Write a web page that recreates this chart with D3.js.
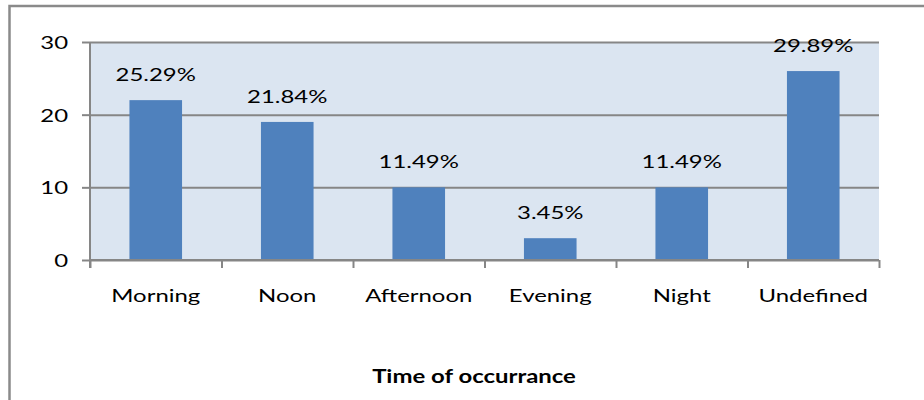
<!DOCTYPE html>
<html>
<head>
<meta charset="utf-8">
<script src="https://cdn.jsdelivr.net/npm/d3@7"></script>
<style>
	html, body { margin: 0; padding: 0; background: #fff; }
	svg { display: block; }
</style>
</head>
<body>
<div id="chart"></div>
<script>
const categories = ["Morning", "Noon", "Afternoon", "Evening", "Night", "Undefined"];
const counts = [22, 19, 10, 3, 10, 26];
const percentLabels = ["25.29%", "21.84%", "11.49%", "3.45%", "11.49%", "29.89%"];
const yTicks = [0, 10, 20, 30];
const axisTitle = "Time of occurrance";

const width = 924;
const height = 400;
const plot = { left: 90, right: 879, top: 42, bottom: 260 };
const gridColor = "#868686";
const fontFamily = "Lato, 'Open Sans', sans-serif";
// the reference picture is stretched sideways, so text glyphs are widened too
const stretch = 1.33;

const data = categories.map((name, i) => ({ name, value: counts[i], label: percentLabels[i] }));

const x = d3.scaleBand()
	.domain(categories)
	.range([plot.left, plot.right])
	.paddingInner(0.6)
	.paddingOuter(0.3);
const y = d3.scaleLinear().domain([0, 30]).range([plot.bottom, plot.top]);
const edges = d3.scaleLinear().domain([0, categories.length]).range([plot.left, plot.right]);

const svg = d3.select("#chart")
	.append("svg")
	.attr("width", width)
	.attr("height", height)
	.attr("viewBox", `0 0 ${width} ${height}`);

// outer chart border (only top and left visible in the crop)
svg.append("path")
	.attr("d", `M9.5,${height + 5} V6 H${width + 5}`)
	.attr("fill", "none")
	.attr("stroke", "#8a8a8a")
	.attr("stroke-width", 2.5);

svg.append("rect")
	.attr("x", plot.left)
	.attr("y", plot.top)
	.attr("width", plot.right - plot.left)
	.attr("height", plot.bottom - plot.top)
	.attr("fill", "#dbe5f1");

svg.append("g")
	.attr("transform", `translate(${plot.left},0)`)
	.call(d3.axisLeft(y).tickValues(yTicks).tickSize(-(plot.right - plot.left)).tickFormat(() => ""))
	.call((g) => g.select(".domain").remove())
	.call((g) => g.selectAll("line").attr("stroke", gridColor).attr("stroke-width", 2));

svg.append("g")
	.selectAll("rect")
	.data(data)
	.join("rect")
	.attr("x", (d) => x(d.name))
	.attr("y", (d) => y(d.value))
	.attr("width", x.bandwidth())
	.attr("height", (d) => y(0) - y(d.value))
	.attr("fill", "#4f81bd");

function styleText(sel, size, weight) {
	sel.attr("font-family", fontFamily)
		.attr("font-size", size)
		.attr("font-weight", weight || 400)
		.attr("fill", "#000");
}

// left axis
const yAxis = svg.append("g")
	.attr("transform", `translate(${plot.left},0)`)
	.call(d3.axisLeft(y).tickValues(yTicks).tickSize(8).tickPadding(14).tickFormat(d3.format("d")));
yAxis.select(".domain")
	.attr("d", `M0,${plot.top}V${plot.bottom + 8}`)
	.attr("stroke", gridColor)
	.attr("stroke-width", 2);
yAxis.selectAll("line").attr("stroke", gridColor).attr("stroke-width", 2);
yAxis.selectAll("text")
	.call(styleText, 18)
	.attr("dy", "0.36em")
	.attr("transform", function () {
		const tx = +d3.select(this).attr("x");
		return `translate(${tx},0) scale(${stretch},1) translate(${-tx},0)`;
	});

// bottom axis with ticks on the category edges
svg.append("g")
	.attr("transform", `translate(0,${plot.bottom})`)
	.call(d3.axisBottom(edges).tickValues(d3.range(categories.length + 1)).tickSize(8).tickFormat(() => ""))
	.call((g) => g.select(".domain").attr("d", `M${plot.left},0H${plot.right}`))
	.call((g) => g.selectAll("line, path").attr("stroke", gridColor).attr("stroke-width", 2));

const xAxis = svg.append("g")
	.attr("transform", `translate(0,${plot.bottom})`)
	.call(d3.axisBottom(x).tickSize(0).tickPadding(0));
xAxis.select(".domain").remove();
xAxis.selectAll("text")
	.call(styleText, 18)
	.attr("y", 42)
	.attr("dy", 0)
	.attr("transform", `scale(${stretch},1)`)
	.attr("x", 0);
xAxis.selectAll(".tick")
	.attr("transform", (d) => `translate(${x(d) + x.bandwidth() / 2},0)`);

// percent labels above bars
svg.append("g")
	.selectAll("text")
	.data(data)
	.join("text")
	.attr("text-anchor", "middle")
	.attr("transform", (d) => `translate(${x(d.name) + x.bandwidth() / 2},${y(d.value) - 19}) scale(${stretch},1)`)
	.call(styleText, 18)
	.text((d) => d.label);

svg.append("text")
	.attr("text-anchor", "middle")
	.attr("transform", `translate(474,383) scale(${stretch},1)`)
	.call(styleText, 18, 700)
	.text(axisTitle);
</script>
</body>
</html>
